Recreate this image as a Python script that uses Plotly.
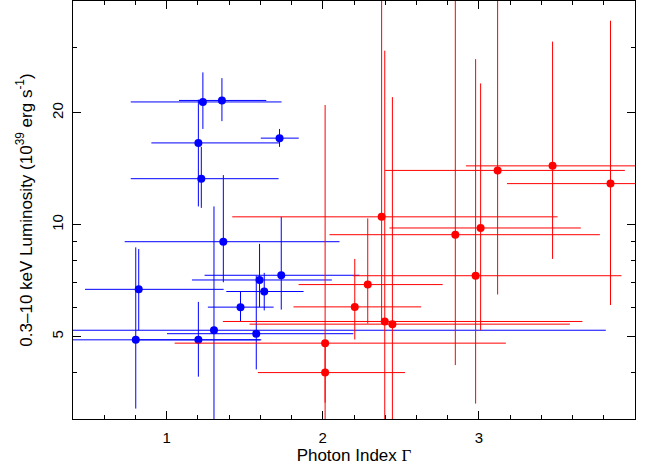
import plotly.graph_objects as go

# Blue sample
blue_x = [1.232, 1.354, 1.203, 1.222, 1.723, 1.363, 1.303, 0.802, 0.821, 1.203, 1.574, 1.473, 1.595, 1.625, 1.734]
blue_y = [21.4, 21.6, 16.6, 13.3, 17.1, 9.0, 5.2, 4.9, 6.7, 4.9, 5.09, 6.0, 7.1, 6.61, 7.31]
blue_xlo = [0.770, 1.079, 0.902, 0.770, 1.603, 0.731, 0.30, 0.20, 0.477, 0.80, 1.002, 1.264, 1.162, 1.382, 1.243]
blue_xhi = [1.736, 1.638, 1.723, 1.717, 1.846, 2.107, 3.813, 1.606, 1.365, 1.60, 2.196, 1.685, 2.058, 1.877, 2.235]
blue_ylo = [18.1, 19.0, 11.2, 11.1, 16.2, 7.0, 2.5, 3.2, 5.2, 3.9, 4.08, 5.49, 6.0, 5.88, 5.91]
blue_yhi = [25.7, 24.8, 21.7, 16.2, 18.1, 13.6, 11.2, 8.69, 8.6, 6.2, 7.29, 6.59, 8.88, 7.42, 10.5]

# Red sample
red_x = [2.015, 2.015, 2.205, 2.288, 2.377, 2.397, 2.446, 2.849, 3.011, 2.979, 3.12, 3.472, 3.843]
red_y = [4.80, 4.00, 6.01, 6.90, 10.5, 5.49, 5.40, 9.40, 9.80, 7.29, 14.0, 14.4, 12.9]
red_xlo = [1.051, 1.584, 1.8125, 1.845, 1.42, 1.36, 1.531, 2.043, 2.427, 2.192, 2.399, 2.917, 3.18]
red_xhi = [3.173, 2.527, 2.63, 2.768, 3.504, 3.663, 3.583, 3.775, 3.653, 3.913, 3.935, 4.03, 4.5]
red_ylo = [3.32, 2.6, 4.91, 5.42, 5.49, 2.5, 2.6, 4.19, 5.20, 3.30, 6.49, 8.09, 6.08]
red_yhi = [21.0, 4.8, 8.09, 10.4, 50.0, 29.4, 22.05, 50.0, 24.0, 27.9, 50.0, 31.1, 35.4]

x_ticks = [1, 2, 3]
y_ticks = [5, 10, 20]
y_minor = [3, 4, 6, 7, 8, 9, 30, 40]


def make_trace(xs, ys, xlo, xhi, ylo, yhi, color):
    return go.Scatter(
        x=xs, y=ys, mode="markers",
        marker=dict(color=color, size=8, line=dict(width=0)),
        error_x=dict(type="data", symmetric=False,
                     array=[h - v for h, v in zip(xhi, xs)],
                     arrayminus=[v - l for l, v in zip(xlo, xs)],
                     color=color, thickness=1, width=0),
        error_y=dict(type="data", symmetric=False,
                     array=[h - v for h, v in zip(yhi, ys)],
                     arrayminus=[v - l for l, v in zip(ylo, ys)],
                     color=color, thickness=1, width=0),
        showlegend=False, hoverinfo="x+y",
    )


fig = go.Figure()
fig.add_trace(make_trace(blue_x, blue_y, blue_xlo, blue_xhi, blue_ylo, blue_yhi, "#0000ff"))
fig.add_trace(make_trace(red_x, red_y, red_xlo, red_xhi, red_ylo, red_yhi, "#ff0000"))

font = "Liberation Sans, Arial, Helvetica, sans-serif"
fig.update_layout(
    width=654, height=469,
    margin=dict(l=73, r=19, t=1, b=50),
    paper_bgcolor="white", plot_bgcolor="white",
    font=dict(family=font, size=15, color="black"),
    xaxis=dict(
        range=[0.4, 4.0], tickvals=x_ticks, ticktext=[str(v) for v in x_ticks],
        ticks="inside", ticklen=8, tickwidth=1, tickcolor="black",
        showline=True, linecolor="black", linewidth=1, mirror="ticks",
        showgrid=False, zeroline=False, ticklabelstandoff=5,
        minor=dict(dtick=0.2, tick0=0, ticks="inside", ticklen=4, tickcolor="black", showgrid=False),
        title=dict(text="Photon Index <span style=\"font-family:'Liberation Serif', serif\">Γ</span>",
                   font=dict(size=17), standoff=4),
        tickfont=dict(size=15),
    ),
    yaxis=dict(
        type="log", range=[0.47712, 1.60206], tickvals=y_ticks, ticktext=[str(v) for v in y_ticks],
        ticks="inside", ticklen=8, tickwidth=1, tickcolor="black", tickangle=-90,
        showline=True, linecolor="black", linewidth=1, mirror="ticks",
        showgrid=False, zeroline=False, ticklabelstandoff=3,
        minor=dict(tickmode="array", tickvals=y_minor, ticks="inside", ticklen=4, tickcolor="black", showgrid=False),
        title=dict(text="0.3–10 keV Luminosity (10<sup>39</sup> erg s<sup>-1</sup>)",
                   font=dict(size=17), standoff=12),
        tickfont=dict(size=15),
    ),
)

fig.write_html("out.html", config={"displayModeBar": False},
               post_script="document.body.style.margin='0';document.body.style.padding='0';")
